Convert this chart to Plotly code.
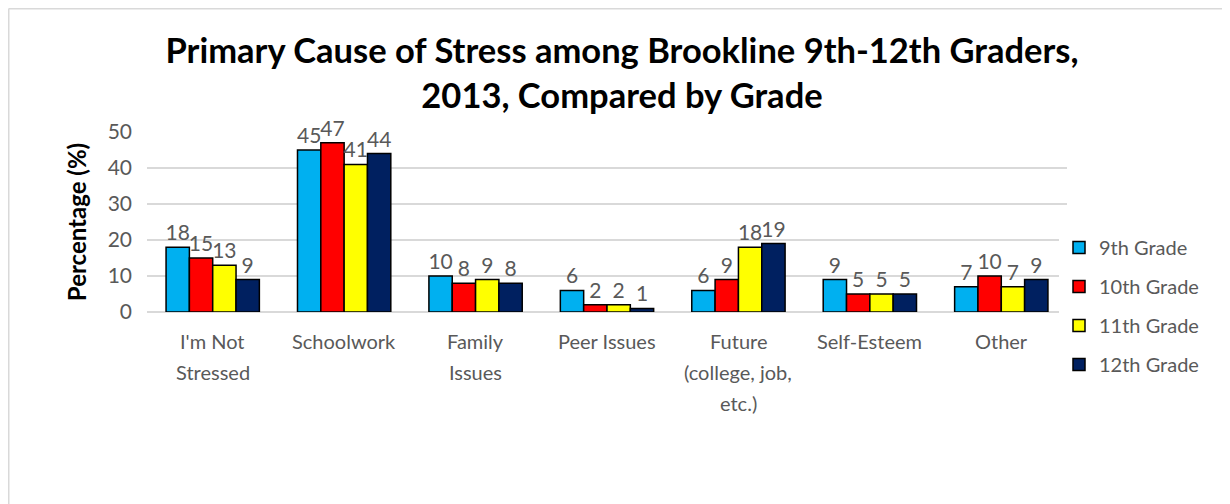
import plotly.graph_objects as go

categories = ["I'm Not Stressed", "Schoolwork", "Family Issues", "Peer Issues",
              "Future (college, job, etc.)", "Self-Esteem", "Other"]
category_lines = [["I'm Not", "Stressed"], ["Schoolwork"], ["Family", "Issues"], ["Peer Issues"],
                  ["Future", "(college, job,", "etc.)"], ["Self-Esteem"], ["Other"]]
series_names = ["9th Grade", "10th Grade", "11th Grade", "12th Grade"]
grade9 = [18, 45, 10, 6, 6, 9, 7]
grade10 = [15, 47, 8, 2, 9, 5, 10]
grade11 = [13, 41, 9, 2, 18, 5, 7]
grade12 = [9, 44, 8, 1, 19, 5, 9]
series_values = [grade9, grade10, grade11, grade12]
series_colors = ["#00B0F0", "#FF0000", "#FFFF00", "#002060"]
y_ticks = [0, 10, 20, 30, 40, 50]

FONT = "Lato"
GRAY = "#595959"

# page has an 8px body margin; figure is sized so that it ends at the window edge
OFF = 8
W, H = 1222, 496
L, T = 139, 124
pw, ph = 920, 180
R, B = W - L - pw, H - T - ph


def px2x(px):
    return (px - OFF - L) / pw


def py2y(py):
    return (H - B - (py - OFF)) / ph


fig = go.Figure()
for name, vals, col in zip(series_names, series_values, series_colors):
    fig.add_trace(go.Bar(
        name=name, x=categories, y=vals,
        marker=dict(color=col, line=dict(color="black", width=1.5)),
        text=[str(v) for v in vals], textposition="outside",
        textfont=dict(family=FONT, size=21, color=GRAY),
        constraintext="none", cliponaxis=False,
        legendgroup=name,
    ))

annotations = []
for cat, lines in zip(categories, category_lines):
    for j, line in enumerate(lines):
        annotations.append(dict(
            x=cat, y=0, xref="x", yref="y", text=line, showarrow=False,
            yanchor="middle", yshift=-(29 + 31 * j),
            font=dict(family=FONT, size=20, color=GRAY),
        ))

shapes = [
    dict(type="line", xref="paper", yref="paper", x0=px2x(8.5), x1=px2x(1240),
         y0=py2y(8.75), y1=py2y(8.75), line=dict(color="#D9D9D9", width=1.5)),
    dict(type="line", xref="paper", yref="paper", x0=px2x(8.75), x1=px2x(8.75),
         y0=py2y(8.75), y1=py2y(520), line=dict(color="#D9D9D9", width=1.5)),
]

fig.update_layout(
    width=W, height=H,
    margin=dict(l=L, r=R, t=T, b=B, autoexpand=False),
    paper_bgcolor="white", plot_bgcolor="white",
    barmode="group", bargap=0.29, bargroupgap=0,
    title=dict(
        text="Primary Cause of Stress among Brookline 9th-12th Graders,<br>2013, Compared by Grade",
        x=(622 - OFF) / W, xanchor="center", y=1 - (63 - OFF) / H, yanchor="middle", yref="container",
        font=dict(family=FONT, size=34.5, color="black", weight="bold"),
    ),
    xaxis=dict(showticklabels=False, showgrid=False, showline=False, zeroline=False),
    yaxis=dict(
        range=[0, 50], tickvals=y_ticks, ticktext=[str(t) for t in y_ticks],
        showgrid=True, gridcolor="#D9D9D9", gridwidth=1.5,
        zeroline=True, zerolinecolor="#D9D9D9", zerolinewidth=1.5,
        showline=False, ticks="", ticklabelstandoff=14,
        tickfont=dict(family=FONT, size=21, color=GRAY),
        title=dict(text="Percentage (%)", standoff=14,
                   font=dict(family=FONT, size=24, color="black", weight="bold")),
    ),
    legend=dict(
        x=px2x(1059), xanchor="left", y=py2y(228), yanchor="top",
        font=dict(family=FONT, size=20, color=GRAY),
        traceorder="grouped", tracegroupgap=10,
        itemwidth=30,
    ),
    annotations=annotations,
    shapes=shapes,
)

fig.write_html("out.html")
